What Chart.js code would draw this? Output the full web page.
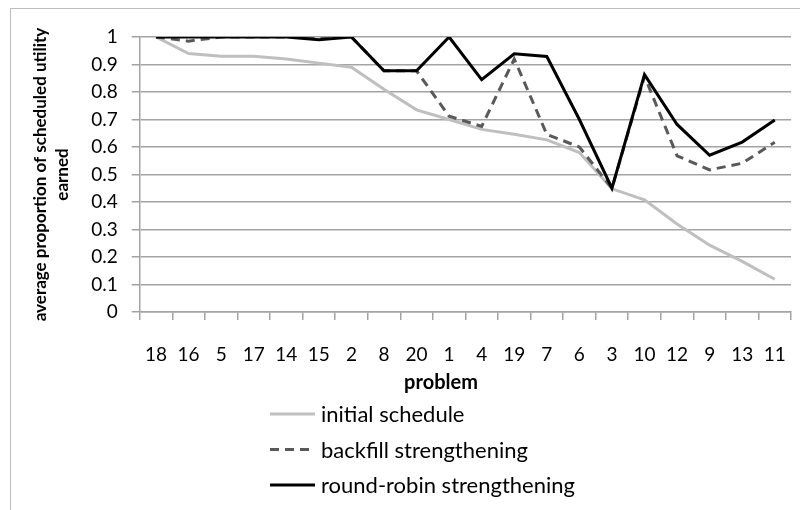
<!DOCTYPE html>
<html>
<head>
<meta charset="utf-8">
<script src="https://cdn.jsdelivr.net/npm/chart.js@4/dist/chart.umd.min.js"></script>
<style>
  html, body { margin: 0; padding: 0; background: #fff; overflow: hidden; }
  #wrap { position: relative; width: 800px; height: 510px; }
  #frame { position: absolute; left: 10px; top: 8px; width: 820px; height: 540px; border: 1.5px solid #bdbdbd; box-sizing: border-box; }
  canvas { position: absolute; left: 0; top: 0; }
</style>
</head>
<body>
<div id="wrap">
  <div id="frame"></div>
  <canvas id="chart" width="800" height="510"></canvas>
</div>
<script>
// problèmes triés, valeurs
const problems = ['18', '16', '5', '17', '14', '15', '2', '8', '20', '1', '4', '19', '7', '6', '3', '10', '12', '9', '13', '11'];

const initialSchedule = [1.0, 0.94, 0.93, 0.93, 0.92, 0.905, 0.89, 0.81, 0.735, 0.70, 0.664, 0.646, 0.626, 0.58, 0.448, 0.408, 0.32, 0.243, 0.184, 0.119];
const backfill = [1.0, 0.985, 1.0, 1.0, 1.0, 1.0, 1.0, 0.877, 0.877, 0.712, 0.675, 0.92, 0.646, 0.60, 0.45, 0.857, 0.568, 0.517, 0.541, 0.617];
const roundRobin = [1.0, 1.0, 1.0, 1.0, 1.0, 0.99, 1.0, 0.877, 0.877, 1.0, 0.845, 0.939, 0.929, 0.70, 0.45, 0.863, 0.682, 0.57, 0.618, 0.698];

const yTicks = [0, 0.1, 0.2, 0.3, 0.4, 0.5, 0.6, 0.7, 0.8, 0.9, 1];

const FONT = 'Lato, "Noto Sans", sans-serif';
const GRID = '#a3a3a3';

// légende verticale + titre de l'axe x, dessinés sous le graphique
const bottomLegend = {
  id: 'bottomLegend',
  afterDraw(chart) {
    const ctx = chart.ctx;
    ctx.save();
    ctx.fillStyle = '#000';
    ctx.textBaseline = 'middle';
    ctx.font = 'bold 20px ' + FONT;
    ctx.textAlign = 'center';
    ctx.fillText('problem', 441, 383);
    ctx.textAlign = 'left';
    ctx.font = '22px ' + FONT;
    chart.data.datasets.forEach((ds, i) => {
      const y = 414 + i * 35.5;
      ctx.strokeStyle = ds.borderColor;
      ctx.lineWidth = 3;
      ctx.setLineDash(ds.borderDash || []);
      ctx.beginPath();
      ctx.moveTo(270, y);
      ctx.lineTo(315, y);
      ctx.stroke();
      ctx.fillText(ds.label, 321, y + 1);
    });
    ctx.restore();
  }
};

new Chart(document.getElementById('chart'), {
  type: 'line',
  data: {
    labels: problems,
    datasets: [
      { label: 'initial schedule', data: initialSchedule, borderColor: '#bfbfbf', order: 3 },
      { label: 'backfill strengthening', data: backfill, borderColor: '#595959', borderDash: [9, 6], order: 2 },
      { label: 'round-robin strengthening', data: roundRobin, borderColor: '#000000', order: 1 }
    ]
  },
  options: {
    responsive: false,
    animation: false,
    elements: {
      line: { borderWidth: 3, tension: 0, fill: false, borderCapStyle: 'butt', borderJoinStyle: 'miter' },
      point: { radius: 0, hoverRadius: 0 }
    },
    layout: { padding: { left: 29, right: 8, top: 37, bottom: 120 } },
    plugins: { legend: { display: false }, tooltip: { enabled: false } },
    scales: {
      x: {
        offset: true,
        grid: { offset: true, drawOnChartArea: false, drawTicks: true, tickLength: 8, color: GRID, lineWidth: 1.5 },
        border: { color: GRID, width: 1.5 },
        // petit padding (sinon marge à droite), la hauteur de ligne descend les étiquettes
        ticks: { color: '#000', font: { family: FONT, size: 19, lineHeight: 2.21 }, padding: 14, maxRotation: 0, autoSkip: false }
      },
      y: {
        min: 0,
        max: 1,
        afterBuildTicks(scale) { scale.ticks = yTicks.map(v => ({ value: v })); },
        grid: { color: GRID, lineWidth: 1.5, tickLength: 8 },
        border: { color: GRID, width: 1.5 },
        ticks: {
          color: '#000',
          font: { family: FONT, size: 19 },
          padding: 14,
          autoSkip: false,
          callback: v => String(Math.round(v * 10) / 10)
        },
        title: {
          display: true,
          text: ['average proportion of scheduled utility', 'earned'],
          color: '#000',
          font: { family: FONT, size: 17, weight: 'bold', lineHeight: 1.3 },
          padding: { top: 0, bottom: 4 }
        }
      }
    }
  },
  plugins: [bottomLegend]
});
</script>
</body>
</html>
